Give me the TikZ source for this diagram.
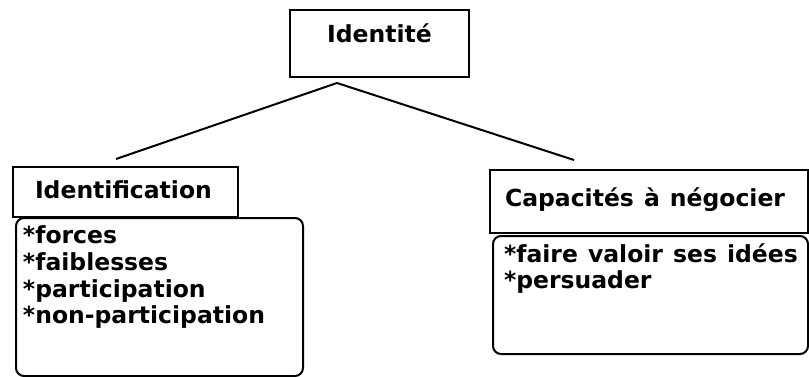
\documentclass[tikz,border=0pt]{standalone}
\usepackage{fontspec}
\newfontfamily\diagfont{DejaVu Sans}
\begin{document}
\begin{tikzpicture}[x=1pt,y=-1pt,
  box/.style={draw=black,line width=2pt,rectangle,inner sep=0pt,outer sep=0pt},
  roundbox/.style={box,rounded corners=8pt},
  txt/.style={inner sep=0pt,outer sep=0pt,anchor=base west,font=\diagfont\bfseries\fontsize{23.5}{27}\selectfont},
  conn/.style={draw=black,line width=2pt}]
\useasboundingbox (0,0) rectangle (809,377);
% boxes
\node[box,minimum width=179pt,minimum height=67pt] (idbox) at (379.5,43.5) {};
\node[box,minimum width=225pt,minimum height=50pt] (identbox) at (125.5,192) {};
\node[roundbox,minimum width=287pt,minimum height=158pt] (listL) at (159.5,297) {};
\node[box,minimum width=318pt,minimum height=63pt] (capbox) at (649,201.5) {};
\node[roundbox,minimum width=315pt,minimum height=118pt] (listR) at (650.5,295) {};
% titles
\node[txt,anchor=base] (tId) at (379.5,43) {Identité};
\node[txt] (tIdent) at (35,198) {Identification};
\node[txt] (tCap) at (505,207) {Capacités\hspace{0.08em} à\hspace{0.08em} négocier};
% left list
\node[txt] (l1) at (23,243) {*forces};
\node[txt] (l2) at (23,270) {*faiblesses};
\node[txt] (l3) at (23,297) {*participation};
\node[txt] (l4) at (23,323) {*non-participation};
% right list
\node[txt] (r1) at (504,262) {*faire\hspace{0.08em} valoir\hspace{0.08em} ses\hspace{0.08em} idées};
\node[txt] (r2) at (504,288) {*persuader};
% connectors
\coordinate (apex) at (337,83);
\coordinate (lend) at (116,159);
\coordinate (rend) at (574,160);
\draw[conn] (lend) -- (apex) -- (rend);
\end{tikzpicture}
\end{document}
